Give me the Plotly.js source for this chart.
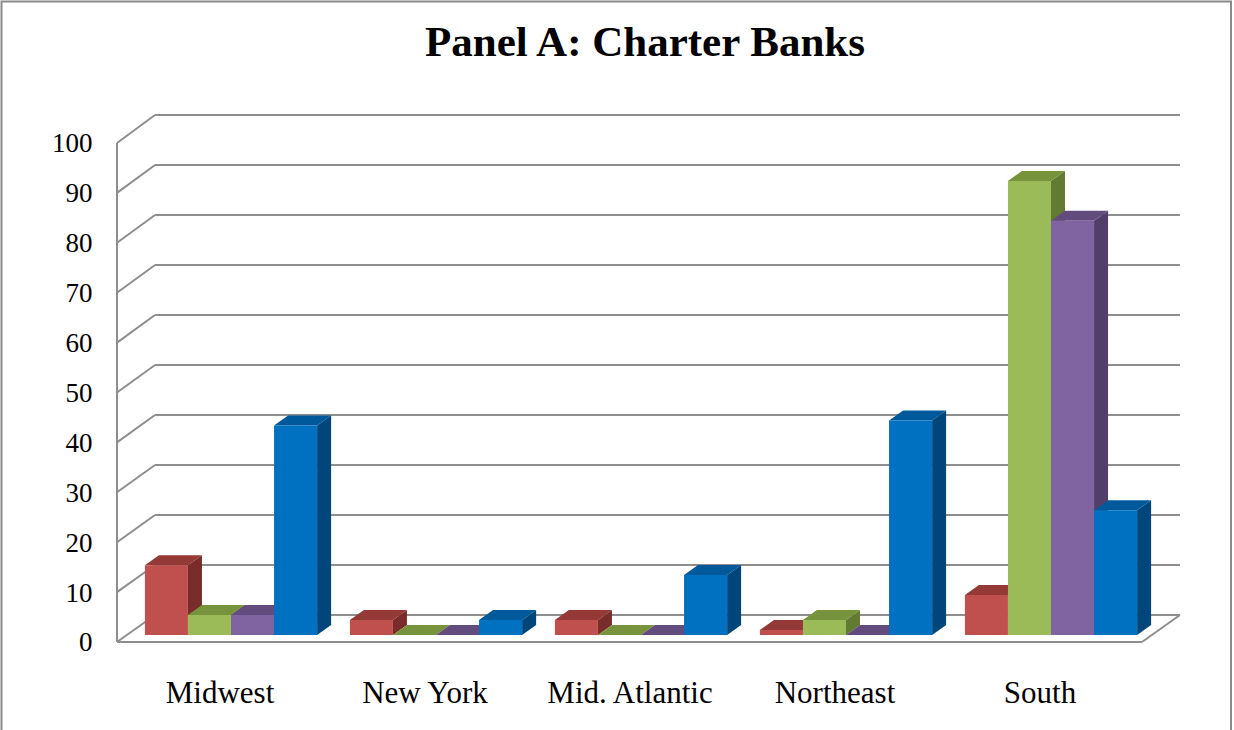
<!DOCTYPE html>
<html>
<head>
<meta charset="utf-8">
<script src="https://cdn.plot.ly/plotly-3.0.1.min.js"></script>
<style>html,body{margin:0;padding:0;background:#fff;}#chart{width:1234px;height:730px;}</style>
</head>
<body>
<div id="chart"></div>
<script>
// ---------------- data ----------------
const categories = ['Midwest', 'New York', 'Mid. Atlantic', 'Northeast', 'South'];
const seriesNames = ['Series 1', 'Series 2', 'Series 3', 'Series 4'];
const series1 = [14, 3, 3, 1, 8];
const series2 = [4, 0, 0, 3, 91];
const series3 = [4, 0, 0, 0, 83];
const series4 = [42, 3, 12, 43, 25];
const yTicks = [0, 10, 20, 30, 40, 50, 60, 70, 80, 90, 100];
const titleText = 'Panel A: Charter Banks';

// ---------------- styles ----------------
const frontColors = ['#C0504D', '#9BBB59', '#8064A2', '#0070C0'];
const topColors   = ['#953936', '#77933C', '#624C7E', '#00599B'];
const sideColors  = ['#782D2B', '#627A31', '#513F69', '#00467B'];
const gridColor = '#8E8E8E';
const FONT = '"Liberation Serif", "Times New Roman", serif';

const W = 1234, H = 730;
const px = p => p / W;
const py = p => (H - p) / H;

// geometry (pixels)
const wall = {x0: 155, x1: 1180, y0: 615, y100: 115};
const barsPlane = {x0: 128.5, x1: 1153.5, y0: 635, y100: 136};
const front = {x0: 117, x1: 1142, y0: 642, y100: 143};
const wallPad = 1; // value units of padding so edge gridlines are drawn
const wallPxPerUnit = (wall.y0 - wall.y100) / 100;

const bargap = 0.16;
const nS = 4;
const barW = (1 - bargap) / nS;
const depthX = 14 / ((barsPlane.x1 - barsPlane.x0) / categories.length); // in category units
const depthY = 10 / ((barsPlane.y0 - barsPlane.y100) / 100);             // in value units

const allSeries = [series1, series2, series3, series4];
const catIdx = categories.map((c, i) => i);

const traces = [];
// invisible anchor for the back wall subplot
traces.push({x: [], y: [], type: 'scatter', xaxis: 'x', yaxis: 'y', showlegend: false, hoverinfo: 'skip'});
allSeries.forEach((vals, j) => {
  traces.push({
    type: 'bar', name: seriesNames[j], x: catIdx, y: vals,
    xaxis: 'x2', yaxis: 'y2',
    marker: {color: frontColors[j], line: {width: 0}},
    showlegend: false
  });
});

const shapes = [];
// outer chart border
shapes.push({type: 'rect', xref: 'paper', yref: 'paper', x0: px(1.5), x1: px(1231), y0: -0.05, y1: py(1.5),
  line: {color: '#8A8A8A', width: 2}, layer: 'below'});

// left side wall diagonals
const fy = v => py(front.y0 - (front.y0 - front.y100) * v / 100);
const wy = v => py(wall.y0 - (wall.y0 - wall.y100) * v / 100);
yTicks.forEach(v => {
  shapes.push({type: 'line', xref: 'paper', yref: 'paper', x0: px(front.x0), y0: fy(v), x1: px(wall.x0), y1: wy(v),
    line: {color: gridColor, width: 2}, layer: 'below'});
});
// front vertical axis line
shapes.push({type: 'line', xref: 'paper', yref: 'paper', x0: px(front.x0), y0: fy(0), x1: px(front.x0), y1: fy(yTicks[yTicks.length - 1]),
  line: {color: gridColor, width: 2}, layer: 'below'});
// floor: front edge and right diagonal
shapes.push({type: 'line', xref: 'paper', yref: 'paper', x0: px(front.x0), y0: fy(0), x1: px(front.x1), y1: fy(0),
  line: {color: gridColor, width: 2}, layer: 'below'});
shapes.push({type: 'line', xref: 'paper', yref: 'paper', x0: px(front.x1), y0: fy(0), x1: px(wall.x1), y1: wy(0),
  line: {color: gridColor, width: 2}, layer: 'below'});

// 3D faces of each bar (top + side), drawn from the data values
catIdx.forEach(i => {
  allSeries.forEach((vals, j) => {
    const v = vals[i];
    const xl = i - (1 - bargap) / 2 + j * barW;
    const xr = xl + barW;
    const top = `M${xl},${v} L${xr},${v} L${xr + depthX},${v + depthY} L${xl + depthX},${v + depthY} Z`;
    const side = `M${xr},0 L${xr},${v} L${xr + depthX},${v + depthY} L${xr + depthX},${depthY} Z`;
    shapes.push({type: 'path', xref: 'x2', yref: 'y2', path: side, fillcolor: sideColors[j], line: {width: 0}, layer: 'below'});
    shapes.push({type: 'path', xref: 'x2', yref: 'y2', path: top, fillcolor: topColors[j], line: {width: 0}, layer: 'below'});
  });
});

const layout = {
  width: W, height: H, autosize: false,
  margin: {l: 0, r: 0, t: 0, b: 0},
  paper_bgcolor: '#fff', plot_bgcolor: 'rgba(0,0,0,0)',
  showlegend: false,
  title: {text: '<b>' + titleText + '</b>', x: px(645), xanchor: 'center', y: py(41), yanchor: 'middle',
    font: {family: FONT, size: 43, color: '#000'}},
  barmode: 'group', bargap: bargap, bargroupgap: 0,
  xaxis: {domain: [px(wall.x0), px(wall.x1)], range: [0, 1], visible: false, fixedrange: true},
  yaxis: {domain: [py(wall.y0 + wallPad * wallPxPerUnit), py(wall.y100 - wallPad * wallPxPerUnit)],
    range: [-wallPad, 100 + wallPad], anchor: 'x',
    tickvals: yTicks, showticklabels: false, ticks: '', showline: false, zeroline: false,
    showgrid: true, gridcolor: gridColor, gridwidth: 2, fixedrange: true},
  xaxis2: {domain: [px(barsPlane.x0), px(barsPlane.x1)], range: [-0.5, categories.length - 0.5], anchor: 'y2',
    tickvals: catIdx, ticktext: categories, ticks: '', showline: false, showgrid: false, zeroline: false,
    ticklabelshift: -11, ticklabelstandoff: 36,
    tickfont: {family: FONT, size: 31, color: '#000'}, fixedrange: true},
  yaxis2: {domain: [py(barsPlane.y0), py(barsPlane.y100)], range: [0, 100], anchor: 'x2',
    tickvals: yTicks, ticks: '', showline: false, showgrid: false, zeroline: false,
    ticklabelshift: 7, ticklabelstandoff: 35,
    tickfont: {family: FONT, size: 27, color: '#000'}, fixedrange: true},
  shapes: shapes
};

Plotly.newPlot('chart', traces, layout, {displayModeBar: false, staticPlot: true});
</script>
</body>
</html>
